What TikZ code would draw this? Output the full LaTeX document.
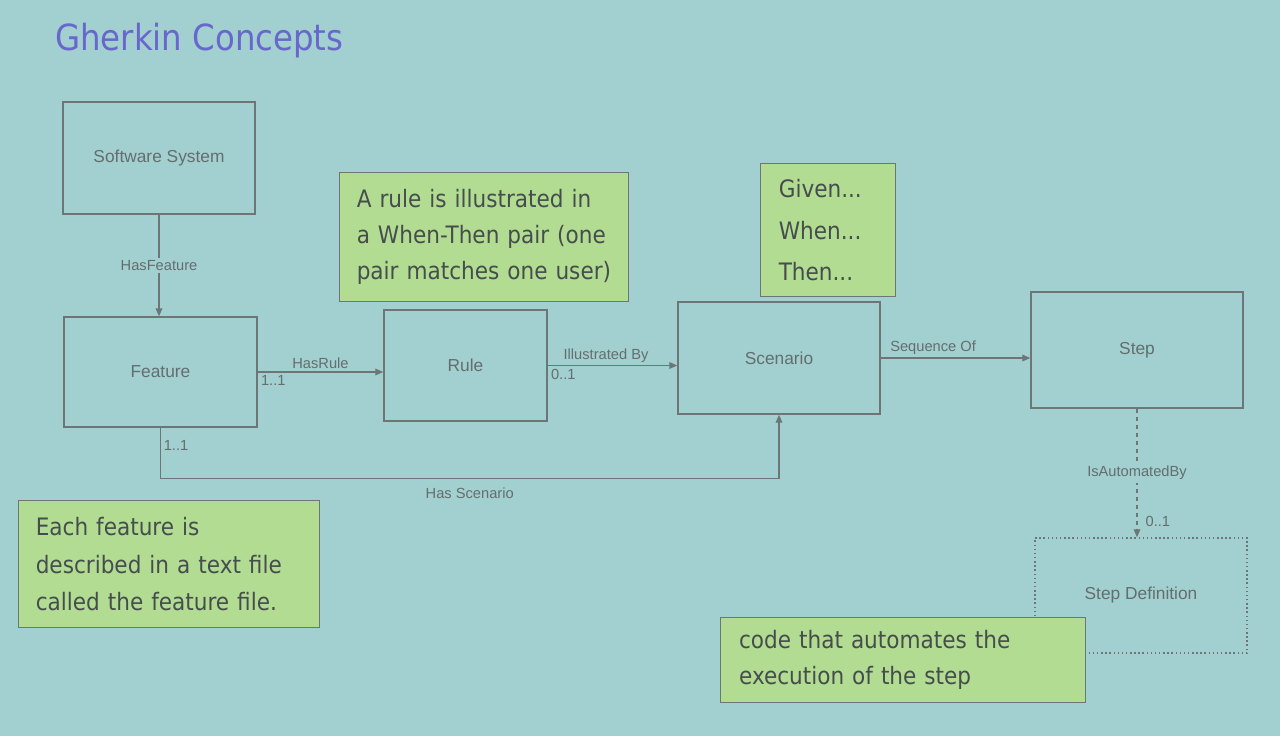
\documentclass[tikz,border=0pt]{standalone}
\usepackage{fontspec}
\setmainfont{Liberation Sans}
\newfontfamily\notefont{DejaVu Sans Condensed}
\usetikzlibrary{positioning,arrows.meta}
\definecolor{slidebg}{RGB}{162,207,207}
\definecolor{notegreen}{RGB}{178,220,146}
\definecolor{boxline}{RGB}{108,118,118}
\definecolor{boxtext}{RGB}{100,110,110}
\definecolor{titleblue}{RGB}{104,104,204}
\begin{document}
\begin{tikzpicture}[x=0.75pt,y=-0.75pt,
  ent/.style={draw=boxline,line width=1.1pt,text=boxtext,font=\fontsize{13}{15}\selectfont,inner sep=0pt},
  note/.style={draw=boxline,line width=0.9pt,fill=notegreen,text=boxtext!70!black,anchor=north west,align=left,inner sep=0pt,font=\notefont\fontsize{18}{27}\selectfont},
  rel/.style={draw=boxline,line width=1pt,-{Triangle[length=6pt,width=5pt]}},
  lbl/.style={text=boxtext,font=\fontsize{11}{13}\selectfont,inner sep=2pt}]
% slide
\fill[slidebg] (0,0) rectangle (1280,736);
\node[anchor=base west,text=titleblue,font=\notefont\fontsize{27}{32}\selectfont,inner sep=0pt] (ttl) at (55,50) {Gherkin Concepts};
% entities
\node[ent,minimum width=144pt,minimum height=84pt] (ss) at (159,158) {Software System};
\node[ent,minimum width=144.75pt,minimum height=82.5pt] (ft) at (160.5,372) {Feature};
\node[ent,minimum width=122.25pt,minimum height=83.25pt] (rl) at (465.5,365.5) {Rule};
\node[ent,minimum width=151.5pt,minimum height=84pt] (sc) at (779,358) {Scenario};
\node[ent,minimum width=159pt,minimum height=87pt] (st) at (1137,350) {Step};
\node[ent,dotted,minimum width=159pt,minimum height=86.25pt] (sd) at (1141,595.5) {Step Definition};
% relations
\draw[rel] (ss.south) -- node[lbl,fill=slidebg] {HasFeature} (ss.south |- ft.north);
\draw[rel] (ft.east) -- node[lbl,above] {HasRule} node[lbl,pos=0,below right] {1..1} (ft.east -| rl.west);
\draw[rel] (rl.east) -- node[lbl,above,pos=0.45] {Illustrated By} node[lbl,pos=0,below right] {0..1} (rl.east -| sc.west);
\draw[rel] (sc.east) -- node[lbl,above,pos=0.35] {Sequence Of} (sc.east -| st.west);
\draw[rel] (ft.south) -- node[lbl,pos=0.35,right] {1..1} ++(0,51) coordinate (hs)
  -- node[lbl,below=4pt] {Has Scenario} (hs -| sc.south) -- (sc.south);
\draw[rel,dashed,dash pattern=on 3pt off 3pt] (st.south) -- node[lbl,fill=slidebg] {IsAutomatedBy} node[lbl,pos=0.88,right=4pt] {0..1} (st.south |- sd.north);
% notes
\node[note,minimum width=216.75pt,minimum height=96.75pt,text width=207pt] (nrule) at (339,172) {\hspace*{8pt}A rule is illustrated in\\\hspace*{8pt}a When-Then pair (one\\\hspace*{8pt}pair matches one user)};
\node[note,minimum width=101.25pt,minimum height=99.75pt,text width=94pt,font=\notefont\fontsize{18}{31}\selectfont] (ngwt) at (760,163) {\hspace*{10pt}Given...\\\hspace*{10pt}When...\\\hspace*{10pt}Then...};
\node[note,minimum width=225.75pt,minimum height=95.25pt,text width=218pt,font=\notefont\fontsize{18}{28}\selectfont] (nfile) at (18,500) {\hspace*{9pt}Each feature is\\\hspace*{9pt}described in a text file\\\hspace*{9pt}called the feature file.};
\node[note,minimum width=273.75pt,minimum height=63.75pt,text width=266pt] (ncode) at (720,617) {\hspace*{10pt}code that automates the\\\hspace*{10pt}execution of the step};
\end{tikzpicture}
\end{document}
